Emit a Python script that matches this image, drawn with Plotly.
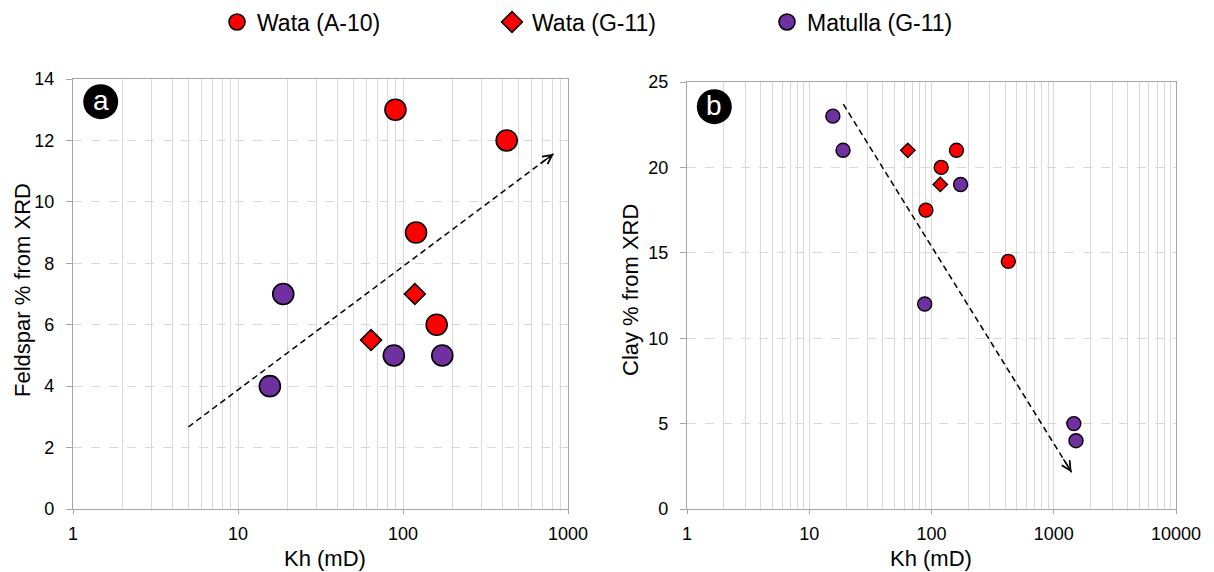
import numpy as np
import plotly.graph_objects as go

# Permeability (Kh, mD) and XRD mineral percentages
kh_wata_a10 = [90, 425, 120, 160]
feldspar_wata_a10 = [13, 12, 9, 6]
clay_wata_a10 = [17.5, 14.5, 20, 21]

kh_wata_g11 = [64, 118]
feldspar_wata_g11 = [5.5, 7]
clay_wata_g11 = [21, 19]

kh_matulla_feld = [15.6, 18.8, 88, 173]
feldspar_matulla = [4, 7, 5, 5]
kh_matulla_clay = [15.6, 18.9, 88, 173, 1460, 1520]
clay_matulla = [23, 21, 12, 19, 5, 4]

# Trend arrows (start -> end) in data units
trend_a_kh = [5, 820]
trend_a_val = [2.67, 11.57]
trend_b_kh = [19, 1400]
trend_b_val = [23.7, 2.15]

RED = "#ff0000"
PURPLE = "#7030a0"
FONT = "Liberation Sans, Arial, sans-serif"
GRID = "#d9d9d9"
AXIS = "#a6a6a6"

W, H = 1214, 572
dom_a_x = [73 / W, 568 / W]
dom_b_x = [687 / W, 1176 / W]
dom_a_y = [1 - 509 / H, 1 - 79 / H]
dom_b_y = [1 - 509 / H, 1 - 82 / H]

fig = go.Figure()

series = [
    ("Wata (A-10)", kh_wata_a10, feldspar_wata_a10, kh_wata_a10, clay_wata_a10, RED, "circle"),
    ("Wata (G-11)", kh_wata_g11, feldspar_wata_g11, kh_wata_g11, clay_wata_g11, RED, "diamond"),
    ("Matulla (G-11)", kh_matulla_feld, feldspar_matulla, kh_matulla_clay, clay_matulla, PURPLE, "circle"),
]

for name, xa, ya, xb, yb, col, sym in series:
    big = 21 if sym == "circle" else 16
    small = 14 if sym == "circle" else 11
    fig.add_trace(go.Scatter(
        x=xa, y=ya, mode="markers", name=name, legendgroup=name,
        marker=dict(color=col, symbol=sym, size=big, line=dict(color="black", width=1.6)),
        xaxis="x", yaxis="y",
    ))
    fig.add_trace(go.Scatter(
        x=xb, y=yb, mode="markers", name=name, legendgroup=name, showlegend=False,
        marker=dict(color=col, symbol=sym, size=small, line=dict(color="black", width=1.4)),
        xaxis="x2", yaxis="y2",
    ))

# dashed trend lines
for xs, ys, xa, ya in [(trend_a_kh, trend_a_val, "x", "y"), (trend_b_kh, trend_b_val, "x2", "y2")]:
    fig.add_trace(go.Scatter(
        x=xs, y=ys, mode="lines", showlegend=False, hoverinfo="skip",
        line=dict(color="black", width=1.5, dash="6px,4px"),
        xaxis=xa, yaxis=ya,
    ))

# open arrowheads at the end of the trend lines
annotations = []
for xs, ys, xr, yr in [(trend_a_kh, trend_a_val, "x", "y"), (trend_b_kh, trend_b_val, "x2", "y2")]:
    lx = np.log10(xs)
    t = 0.96
    tail_x = lx[0] + t * (lx[1] - lx[0])
    tail_y = ys[0] + t * (ys[1] - ys[0])
    annotations.append(dict(
        x=lx[1], y=ys[1], ax=tail_x, ay=tail_y, xref=xr, yref=yr, axref=xr, ayref=yr,
        text="", showarrow=True, arrowhead=5, arrowsize=1.3, arrowwidth=1.4, arrowcolor="black",
    ))

# panel badges
shapes = []
for cx, cy, letter in [(100.7, 101.7, "a"), (714.3, 106.7, "b")]:
    shapes.append(dict(
        type="circle", xref="paper", yref="paper", xsizemode="pixel", ysizemode="pixel",
        xanchor=cx / W, yanchor=1 - cy / H, x0=-17.5, x1=17.5, y0=-17.5, y1=17.5,
        fillcolor="black", line=dict(color="black", width=0),
    ))
    annotations.append(dict(
        x=cx / W, y=1 - (cy - 1) / H, xref="paper", yref="paper", text=letter, showarrow=False,
        font=dict(family=FONT, size=28, color="white"), xanchor="center", yanchor="middle",
    ))

# axis titles
for txt, x, y, ang in [
    ("Feldspar % from XRD", 22 / W, 1 - 290 / H, -90),
    ("Clay % from XRD", 630 / W, 1 - 290 / H, -90),
    ("Kh (mD)", 325 / W, 1 - 558 / H, 0),
    ("Kh (mD)", 931 / W, 1 - 558 / H, 0),
]:
    annotations.append(dict(
        x=x, y=y, xref="paper", yref="paper", text=txt, showarrow=False, textangle=ang,
        font=dict(family=FONT, size=22, color="black"), xanchor="center", yanchor="middle",
    ))

xcommon = dict(
    type="log", dtick=1, tickformat="d", showgrid=True, gridcolor=GRID, gridwidth=1,
    minor=dict(dtick="D1", showgrid=True, gridcolor=GRID, gridwidth=1, ticks=""),
    showline=True, linecolor=AXIS, linewidth=1.3, mirror=True,
    ticks="outside", ticklen=4, tickcolor=AXIS,
    tickfont=dict(family=FONT, size=18, color="black"), zeroline=False,
    ticklabelstandoff=4, automargin=False,
)
ycommon = dict(
    showgrid=True, gridcolor=GRID, gridwidth=1, griddash="dash",
    showline=True, linecolor=AXIS, linewidth=1.3, mirror=True,
    ticks="outside", ticklen=6, tickcolor=AXIS,
    tickfont=dict(family=FONT, size=18, color="black"), zeroline=False,
    ticklabelstandoff=8, automargin=False,
)

fig.update_layout(
    width=W, height=H,
    margin=dict(l=0, r=0, t=0, b=0, autoexpand=False),
    paper_bgcolor="white", plot_bgcolor="white",
    font=dict(family=FONT, color="black"),
    xaxis=dict(domain=dom_a_x, range=[0, 3], anchor="y", **xcommon),
    yaxis=dict(domain=dom_a_y, range=[0, 14], dtick=2, anchor="x", **ycommon),
    xaxis2=dict(domain=dom_b_x, range=[0, 4], anchor="y2", **xcommon),
    yaxis2=dict(domain=dom_b_y, range=[0, 25], dtick=5, anchor="x2", **ycommon),
    legend=dict(
        orientation="h", x=217 / W, xanchor="left", y=1 - 22 / H, yanchor="middle",
        font=dict(family=FONT, size=23, color="black"),
        entrywidth=230, entrywidthmode="pixels", bgcolor="rgba(0,0,0,0)",
    ),
    shapes=shapes,
    annotations=annotations,
    showlegend=True,
)

fig.write_html("out.html")
